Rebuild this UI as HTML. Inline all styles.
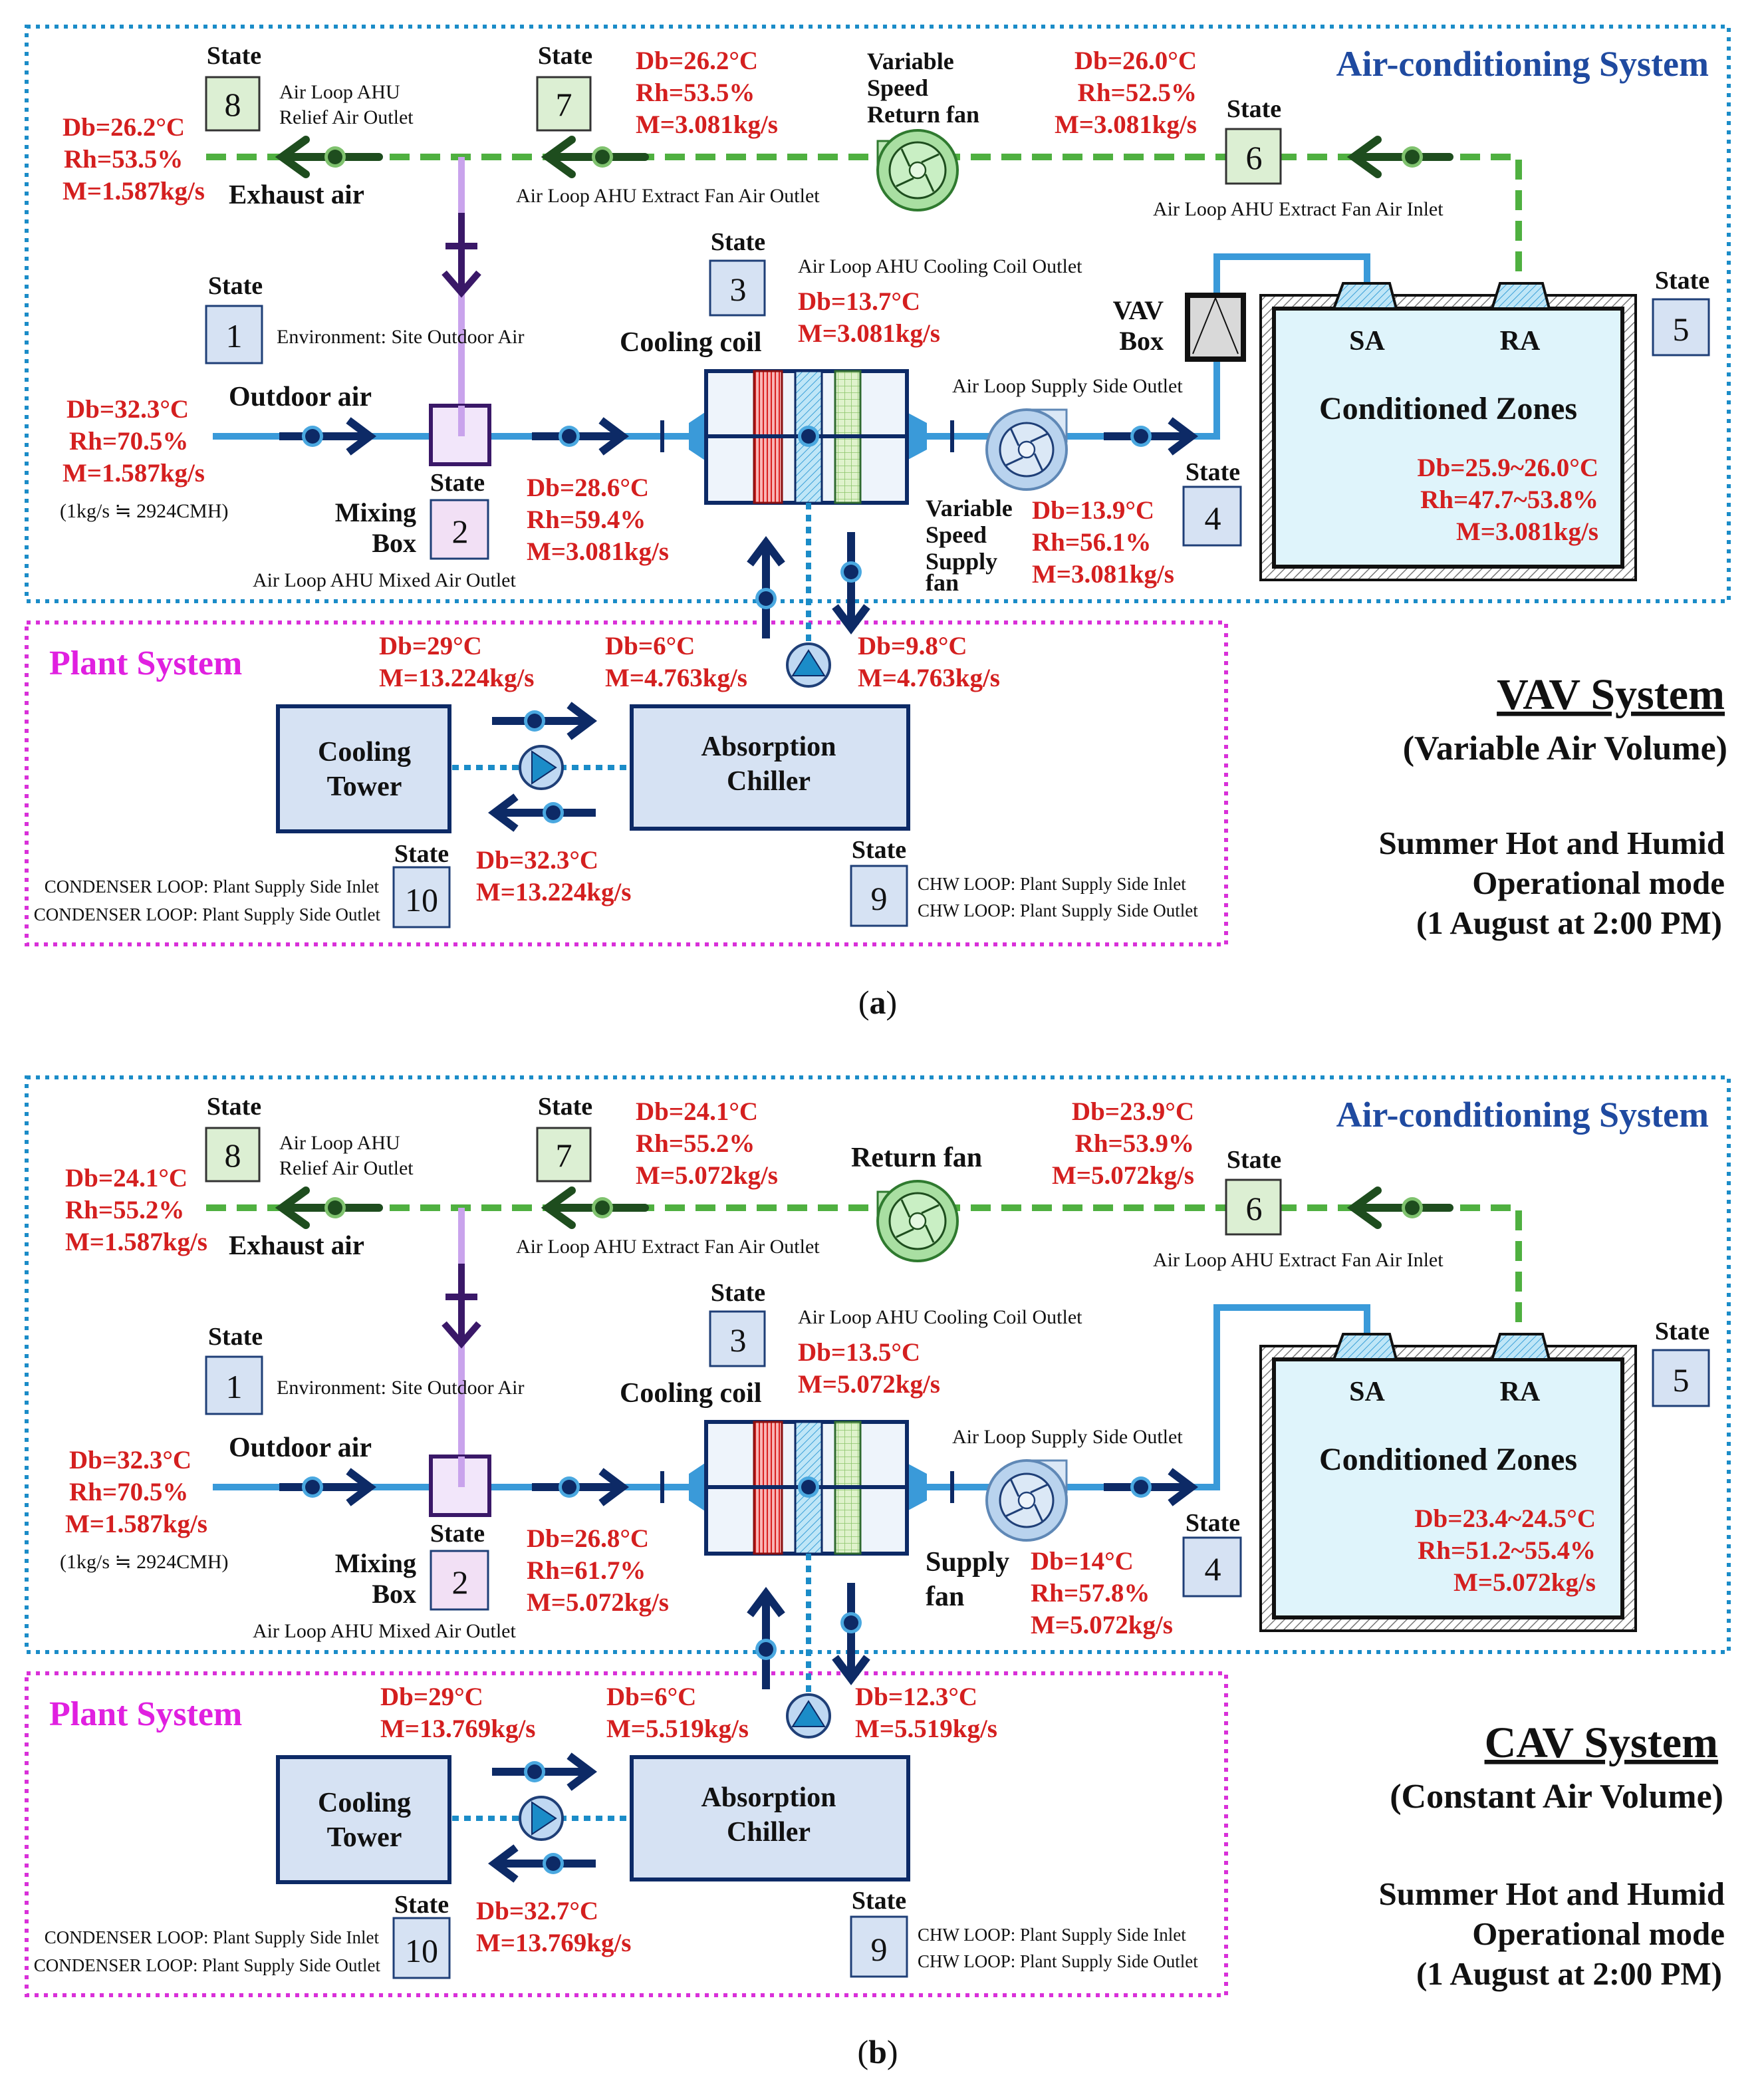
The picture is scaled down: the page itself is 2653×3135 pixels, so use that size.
<!DOCTYPE html>
<html><head><meta charset="utf-8"><style>
html,body{margin:0;padding:0;background:#fff}
svg{display:block}
text{font-family:"Liberation Serif",serif}
.r{fill:#d41f1f;font-weight:bold;font-size:19.5px}
.b{font-weight:bold;font-size:20px;fill:#111}
.s{font-size:15px;fill:#111}
.st{font-weight:bold;font-size:19px;fill:#111;text-anchor:middle}
.num{font-size:25px;fill:#111;text-anchor:middle}
</style></head><body>
<svg width="2653" height="3135" viewBox="0 0 1326.5 1567.5" xmlns="http://www.w3.org/2000/svg">
<defs>
<pattern id="hatch" width="5" height="5" patternUnits="userSpaceOnUse" patternTransform="rotate(45)"><rect width="5" height="5" fill="#fff"/><line x1="0" y1="0" x2="0" y2="5" stroke="#777" stroke-width="1.5"/></pattern>
<pattern id="bh" width="4" height="4" patternUnits="userSpaceOnUse" patternTransform="rotate(45)"><rect width="4" height="4" fill="#bfe6f7"/><line x1="0" y1="0" x2="0" y2="4" stroke="#3aa0d8" stroke-width="1"/></pattern>
<pattern id="rh" width="3" height="4" patternUnits="userSpaceOnUse"><rect width="3" height="4" fill="#f8b5b5"/><line x1="1" y1="0" x2="1" y2="4" stroke="#d92020" stroke-width="1"/></pattern>
<pattern id="gh" width="5" height="5" patternUnits="userSpaceOnUse"><rect width="5" height="5" fill="#dff2cc"/><path d="M0 0H5M0 0V5" stroke="#8cc56a" stroke-width="0.8"/></pattern>
<g id="gdot"><circle r="8" fill="#7fc26e"/><circle r="5.5" fill="#1e4d1e"/></g>
<g id="bdot"><circle r="8" fill="#4aa8e0"/><circle r="5.5" fill="#0d2a66"/></g>
<g id="panel">
 <rect x="20" y="20" width="1280" height="432" fill="none" stroke="#1b8cc8" stroke-width="3" stroke-dasharray="3 4"/>
 <rect x="20" y="468" width="902" height="242" fill="none" stroke="#d930d9" stroke-width="3" stroke-dasharray="3 4"/>
 <path d="M155 118H1142V215" fill="none" stroke="#4fb040" stroke-width="5" stroke-dasharray="15 8"/>
 <g stroke="#1e4d1e" stroke-width="6" fill="none" stroke-linecap="round">
  <path d="M212 118H285M230 105L212 118L230 131"/>
  <path d="M412 118H485M430 105L412 118L430 131"/>
  <path d="M1018 118H1090M1036 105L1018 118L1036 131"/>
 </g>
 <use href="#gdot" x="252" y="118"/><use href="#gdot" x="453" y="118"/><use href="#gdot" x="1062" y="118"/>
 <g transform="translate(690,128)">
  <rect x="-30" y="-22" width="26" height="22" fill="#bfe8b8" stroke="#2f7a2f" stroke-width="1.5"/>
  <circle r="30" fill="#a9dfa2" stroke="#2f7a2f" stroke-width="2"/>
  <circle r="21" fill="#c9efc4" stroke="#1e4d1e" stroke-width="1.5"/>
  <circle r="6" fill="#e5f8e2" stroke="#1e4d1e" stroke-width="1.2"/>
  <path d="M-6 -3L-12 -16M6 3L12 16M3 -6L16 -12M-3 6L-16 12" stroke="#1e4d1e" stroke-width="1.5"/>
 </g>
 <path d="M347 118V305" stroke="#c9a3ec" stroke-width="5"/>
 <g stroke="#3a1868" stroke-width="5" fill="none"><path d="M347 160V220M335 185H359M334 205L347 220L360 205"/></g>
 <path d="M160 328H530M682 328H915V193H1028V215" fill="none" stroke="#3a9ad9" stroke-width="5"/>
 <rect x="324" y="305" width="44" height="44" fill="#f2e6fa" stroke="#3a1868" stroke-width="3"/>
 <path d="M347 305V328" stroke="#c9a3ec" stroke-width="5"/>
 <g stroke="#0d2a66" stroke-width="6" fill="none">
  <path d="M210 328H275M262 316L278 328L262 340"/>
  <path d="M400 328H465M452 316L468 328L452 340"/>
  <path d="M830 328H892M880 316L896 328L880 340"/>
  <path d="M498 316V340M716 316V340" stroke-width="3"/>
 </g>
 <use href="#bdot" x="235" y="328"/><use href="#bdot" x="428" y="328"/><use href="#bdot" x="858" y="328"/>
 <path d="M530 310L518 318V338L530 346Z" fill="#3a9ad9"/>
 <path d="M682 310L697 318V338L682 346Z" fill="#3a9ad9"/>
 <rect x="531" y="279" width="151" height="99" fill="#eef4fb" stroke="#0d2a66" stroke-width="3"/>
 <rect x="567" y="279" width="21" height="99" fill="url(#rh)" stroke="#8a1010" stroke-width="1.5"/>
 <rect x="598" y="279" width="20" height="99" fill="url(#bh)" stroke="#0d2a66" stroke-width="1.5"/>
 <rect x="628" y="279" width="19" height="99" fill="url(#gh)" stroke="#2f6a2f" stroke-width="1.5"/>
 <path d="M531 328H682" stroke="#0d2a66" stroke-width="3"/>
 <use href="#bdot" x="608" y="328"/>
 <g transform="translate(772,338)">
  <rect x="4" y="-30" width="26" height="24" fill="#dbe8f6" stroke="#5f88b6" stroke-width="1.5"/>
  <circle r="30" fill="#b9d3ee" stroke="#5f88b6" stroke-width="2"/>
  <circle r="20" fill="#dbe8f6" stroke="#1f3f77" stroke-width="1.5"/>
  <circle r="6" fill="#eef4fb" stroke="#1f3f77" stroke-width="1.2"/>
  <path d="M-6 -3L-12 -16M6 3L12 16M3 -6L16 -12M-3 6L-16 12" stroke="#1f3f77" stroke-width="1.5"/>
 </g>
 <rect x="948" y="222" width="282" height="214" fill="url(#hatch)" stroke="#111" stroke-width="2"/>
 <rect x="958" y="232" width="262" height="194" fill="#dff4fb" stroke="#111" stroke-width="3"/>
 <path d="M1010 213H1045L1050 232H1003Z" fill="url(#bh)" stroke="#111" stroke-width="2"/>
 <path d="M1128 213H1160L1165 232H1122Z" fill="url(#bh)" stroke="#111" stroke-width="2"/>
 <rect x="209" y="531" width="129" height="94" fill="#d6e2f3" stroke="#0d2a66" stroke-width="3"/>
 <rect x="475" y="531" width="208" height="92" fill="#d6e2f3" stroke="#0d2a66" stroke-width="3"/>
 <path d="M340 577H472" stroke="#1b8cc8" stroke-width="4" stroke-dasharray="5 4"/>
 <path d="M608 378V500" stroke="#1b8cc8" stroke-width="4" stroke-dasharray="5 4"/>
 <g stroke="#0d2a66" stroke-width="6" fill="none">
  <path d="M370 542H440M428 530L444 542L428 554"/>
  <path d="M448 611H376M388 599L372 611L388 623"/>
  <path d="M576 480V410M564 424L576 408L588 424"/>
  <path d="M640 400V468M628 456L640 472L652 456"/>
 </g>
 <use href="#bdot" x="402" y="542"/><use href="#bdot" x="416" y="611"/><use href="#bdot" x="576" y="450"/><use href="#bdot" x="640" y="430"/>
 <g transform="translate(407,577)"><circle r="16" fill="#bfd8f2" stroke="#1f3f77" stroke-width="2"/><path d="M-7 -12L11 0L-7 12Z" fill="#1b8cc8" stroke="#0d2a66"/></g>
 <g transform="translate(608,500)"><circle r="16" fill="#bfd8f2" stroke="#1f3f77" stroke-width="2"/><path d="M-12 8L0 -11L12 8Z" fill="#1b8cc8" stroke="#0d2a66"/></g>
 <rect x="155" y="58" width="40" height="40" fill="#dcefd3" stroke="#333" stroke-width="1.5"/>
 <rect x="404" y="58" width="40" height="40" fill="#dcefd3" stroke="#333" stroke-width="1.5"/>
 <rect x="922" y="97" width="41" height="41" fill="#dcefd3" stroke="#333" stroke-width="1.5"/>
 <rect x="534" y="196" width="41" height="41" fill="#d6e2f3" stroke="#1f3f77" stroke-width="1.5"/>
 <rect x="155" y="230" width="42" height="43" fill="#d6e2f3" stroke="#1f3f77" stroke-width="1.5"/>
 <rect x="324" y="376" width="43" height="44" fill="#f2e0f5" stroke="#1f3f77" stroke-width="1.5"/>
 <rect x="890" y="366" width="43" height="44" fill="#d6e2f3" stroke="#1f3f77" stroke-width="1.5"/>
 <rect x="1243" y="225" width="42" height="42" fill="#d6e2f3" stroke="#1f3f77" stroke-width="1.5"/>
 <rect x="296" y="652" width="42" height="45" fill="#d6e2f3" stroke="#1f3f77" stroke-width="1.5"/>
 <rect x="640" y="651" width="42" height="45" fill="#d6e2f3" stroke="#1f3f77" stroke-width="1.5"/>
 <g class="num"><text x="175" y="87">8</text><text x="424" y="87">7</text><text x="943" y="127">6</text><text x="555" y="226">3</text><text x="176" y="261">1</text><text x="346" y="408">2</text><text x="912" y="398">4</text><text x="1264" y="256">5</text><text x="317" y="685">10</text><text x="661" y="684">9</text></g>
 <g class="st"><text x="176" y="48">State</text><text x="425" y="48">State</text><text x="943" y="88">State</text><text x="555" y="188">State</text><text x="177" y="221">State</text><text x="344" y="369">State</text><text x="912" y="361">State</text><text x="1265" y="217">State</text><text x="317" y="648">State</text><text x="661" y="645">State</text></g>
 <g class="s">
  <text x="210" y="74">Air Loop AHU</text><text x="210" y="93">Relief Air Outlet</text>
  <text x="388" y="152">Air Loop AHU Extract Fan Air Outlet</text>
  <text x="867" y="162">Air Loop AHU Extract Fan Air Inlet</text>
  <text x="600" y="205">Air Loop AHU Cooling Coil Outlet</text>
  <text x="208" y="258">Environment: Site Outdoor Air</text>
  <text x="45" y="389">(1kg/s ≒ 2924CMH)</text>
  <text x="190" y="441">Air Loop AHU Mixed Air Outlet</text>
  <text x="716" y="295">Air Loop Supply Side Outlet</text>
  <text x="285" y="671" text-anchor="end" font-size="13.5">CONDENSER LOOP: Plant Supply Side Inlet</text>
  <text x="286" y="692" text-anchor="end" font-size="13.5">CONDENSER LOOP: Plant Supply Side Outlet</text>
  <text x="690" y="669" font-size="13.5">CHW LOOP: Plant Supply Side Inlet</text>
  <text x="690" y="689" font-size="13.5">CHW LOOP: Plant Supply Side Outlet</text>
 </g>
 <g class="b">
  <text x="172" y="153" font-size="20.5">Exhaust air</text>
  <text x="466" y="264" font-size="21">Cooling coil</text>
  <text x="172" y="305" font-size="21">Outdoor air</text>
  <text x="313" y="392" text-anchor="end">Mixing</text><text x="313" y="415" text-anchor="end">Box</text>
  <text x="1028" y="263" font-size="21" text-anchor="middle">SA</text><text x="1143" y="263" font-size="21" text-anchor="middle">RA</text>
  <text x="1089" y="315" font-size="24" text-anchor="middle">Conditioned Zones</text>
  <text x="274" y="572" font-size="21" text-anchor="middle">Cooling</text><text x="274" y="598" font-size="21" text-anchor="middle">Tower</text>
  <text x="578" y="568" font-size="21" text-anchor="middle">Absorption</text><text x="578" y="594" font-size="21" text-anchor="middle">Chiller</text>
 </g>
 <text x="1285" y="57" text-anchor="end" font-weight="bold" font-size="27" fill="#1f4aa0">Air-conditioning System</text>
 <text x="37" y="507" font-weight="bold" font-size="26" fill="#e020e0">Plant System</text>
 <g font-weight="bold" fill="#111" text-anchor="end">
  <text x="1297" y="642" font-size="24.5">Summer Hot and Humid</text>
  <text x="1297" y="672" font-size="24.5">Operational mode</text>
  <text x="1295" y="702" font-size="24.5">(1 August at 2:00 PM)</text>
 </g>
</g>
</defs>

<use href="#panel"/>
<use href="#panel" transform="translate(0,790)"/>

<rect x="893" y="222" width="42" height="48" fill="#d9d9d9" stroke="#111" stroke-width="4"/>
<path d="M897 266L914 224L931 266" fill="none" stroke="#111" stroke-width="1"/>
<g class="b"><text x="875" y="240" text-anchor="end">VAV</text><text x="875" y="263" text-anchor="end">Box</text>
<text x="652" y="52" font-size="18">Variable</text><text x="652" y="72" font-size="18">Speed</text><text x="652" y="92" font-size="18">Return fan</text>
<text x="696" y="388" font-size="18">Variable</text><text x="696" y="408" font-size="18">Speed</text><text x="696" y="428" font-size="18">Supply</text><text x="696" y="444" font-size="18">fan</text></g>
<g class="r">
 <text x="47" y="102">Db=26.2°C</text><text x="48" y="126">Rh=53.5%</text><text x="47" y="150">M=1.587kg/s</text>
 <text x="478" y="52">Db=26.2°C</text><text x="478" y="76">Rh=53.5%</text><text x="478" y="100">M=3.081kg/s</text>
 <text x="900" y="52" text-anchor="end">Db=26.0°C</text><text x="900" y="76" text-anchor="end">Rh=52.5%</text><text x="900" y="100" text-anchor="end">M=3.081kg/s</text>
 <text x="600" y="233">Db=13.7°C</text><text x="600" y="257">M=3.081kg/s</text>
 <text x="50" y="314">Db=32.3°C</text><text x="52" y="338">Rh=70.5%</text><text x="47" y="362">M=1.587kg/s</text>
 <text x="396" y="373">Db=28.6°C</text><text x="396" y="397">Rh=59.4%</text><text x="396" y="421">M=3.081kg/s</text>
 <text x="776" y="390">Db=13.9°C</text><text x="776" y="414">Rh=56.1%</text><text x="776" y="438">M=3.081kg/s</text>
 <text x="1202" y="358" text-anchor="end">Db=25.9~26.0°C</text><text x="1202" y="382" text-anchor="end">Rh=47.7~53.8%</text><text x="1202" y="406" text-anchor="end">M=3.081kg/s</text>
 <text x="285" y="492">Db=29°C</text><text x="285" y="516">M=13.224kg/s</text>
 <text x="455" y="492">Db=6°C</text><text x="455" y="516">M=4.763kg/s</text>
 <text x="645" y="492">Db=9.8°C</text><text x="645" y="516">M=4.763kg/s</text>
 <text x="358" y="653">Db=32.3°C</text><text x="358" y="677">M=13.224kg/s</text>
</g>
<g font-weight="bold" fill="#111" text-anchor="end">
 <text x="1297" y="533" font-size="33" text-decoration="underline">VAV System</text>
 <text x="1299" y="571" font-size="26">(Variable Air Volume)</text>
</g>
<text x="660" y="762" text-anchor="middle" font-size="25" fill="#111">(<tspan font-weight="bold">a</tspan>)</text>

<g transform="translate(0,790)">
<g class="b"><text x="640" y="87" font-size="21">Return fan</text>
<text x="696" y="391" font-size="21">Supply</text><text x="696" y="417" font-size="21">fan</text></g>
<g class="r">
 <text x="49" y="102">Db=24.1°C</text><text x="49" y="126">Rh=55.2%</text><text x="49" y="150">M=1.587kg/s</text>
 <text x="478" y="52">Db=24.1°C</text><text x="478" y="76">Rh=55.2%</text><text x="478" y="100">M=5.072kg/s</text>
 <text x="898" y="52" text-anchor="end">Db=23.9°C</text><text x="898" y="76" text-anchor="end">Rh=53.9%</text><text x="898" y="100" text-anchor="end">M=5.072kg/s</text>
 <text x="600" y="233">Db=13.5°C</text><text x="600" y="257">M=5.072kg/s</text>
 <text x="52" y="314">Db=32.3°C</text><text x="52" y="338">Rh=70.5%</text><text x="49" y="362">M=1.587kg/s</text>
 <text x="396" y="373">Db=26.8°C</text><text x="396" y="397">Rh=61.7%</text><text x="396" y="421">M=5.072kg/s</text>
 <text x="775" y="390">Db=14°C</text><text x="775" y="414">Rh=57.8%</text><text x="775" y="438">M=5.072kg/s</text>
 <text x="1200" y="358" text-anchor="end">Db=23.4~24.5°C</text><text x="1200" y="382" text-anchor="end">Rh=51.2~55.4%</text><text x="1200" y="406" text-anchor="end">M=5.072kg/s</text>
 <text x="286" y="492">Db=29°C</text><text x="286" y="516">M=13.769kg/s</text>
 <text x="456" y="492">Db=6°C</text><text x="456" y="516">M=5.519kg/s</text>
 <text x="643" y="492">Db=12.3°C</text><text x="643" y="516">M=5.519kg/s</text>
 <text x="358" y="653">Db=32.7°C</text><text x="358" y="677">M=13.769kg/s</text>
</g>
<g font-weight="bold" fill="#111" text-anchor="end">
 <text x="1292" y="531" font-size="33" text-decoration="underline">CAV System</text>
 <text x="1296" y="569" font-size="26">(Constant Air Volume)</text>
</g>
<text x="660" y="761" text-anchor="middle" font-size="25" fill="#111">(<tspan font-weight="bold">b</tspan>)</text>
</g>
</svg>
</body></html>
